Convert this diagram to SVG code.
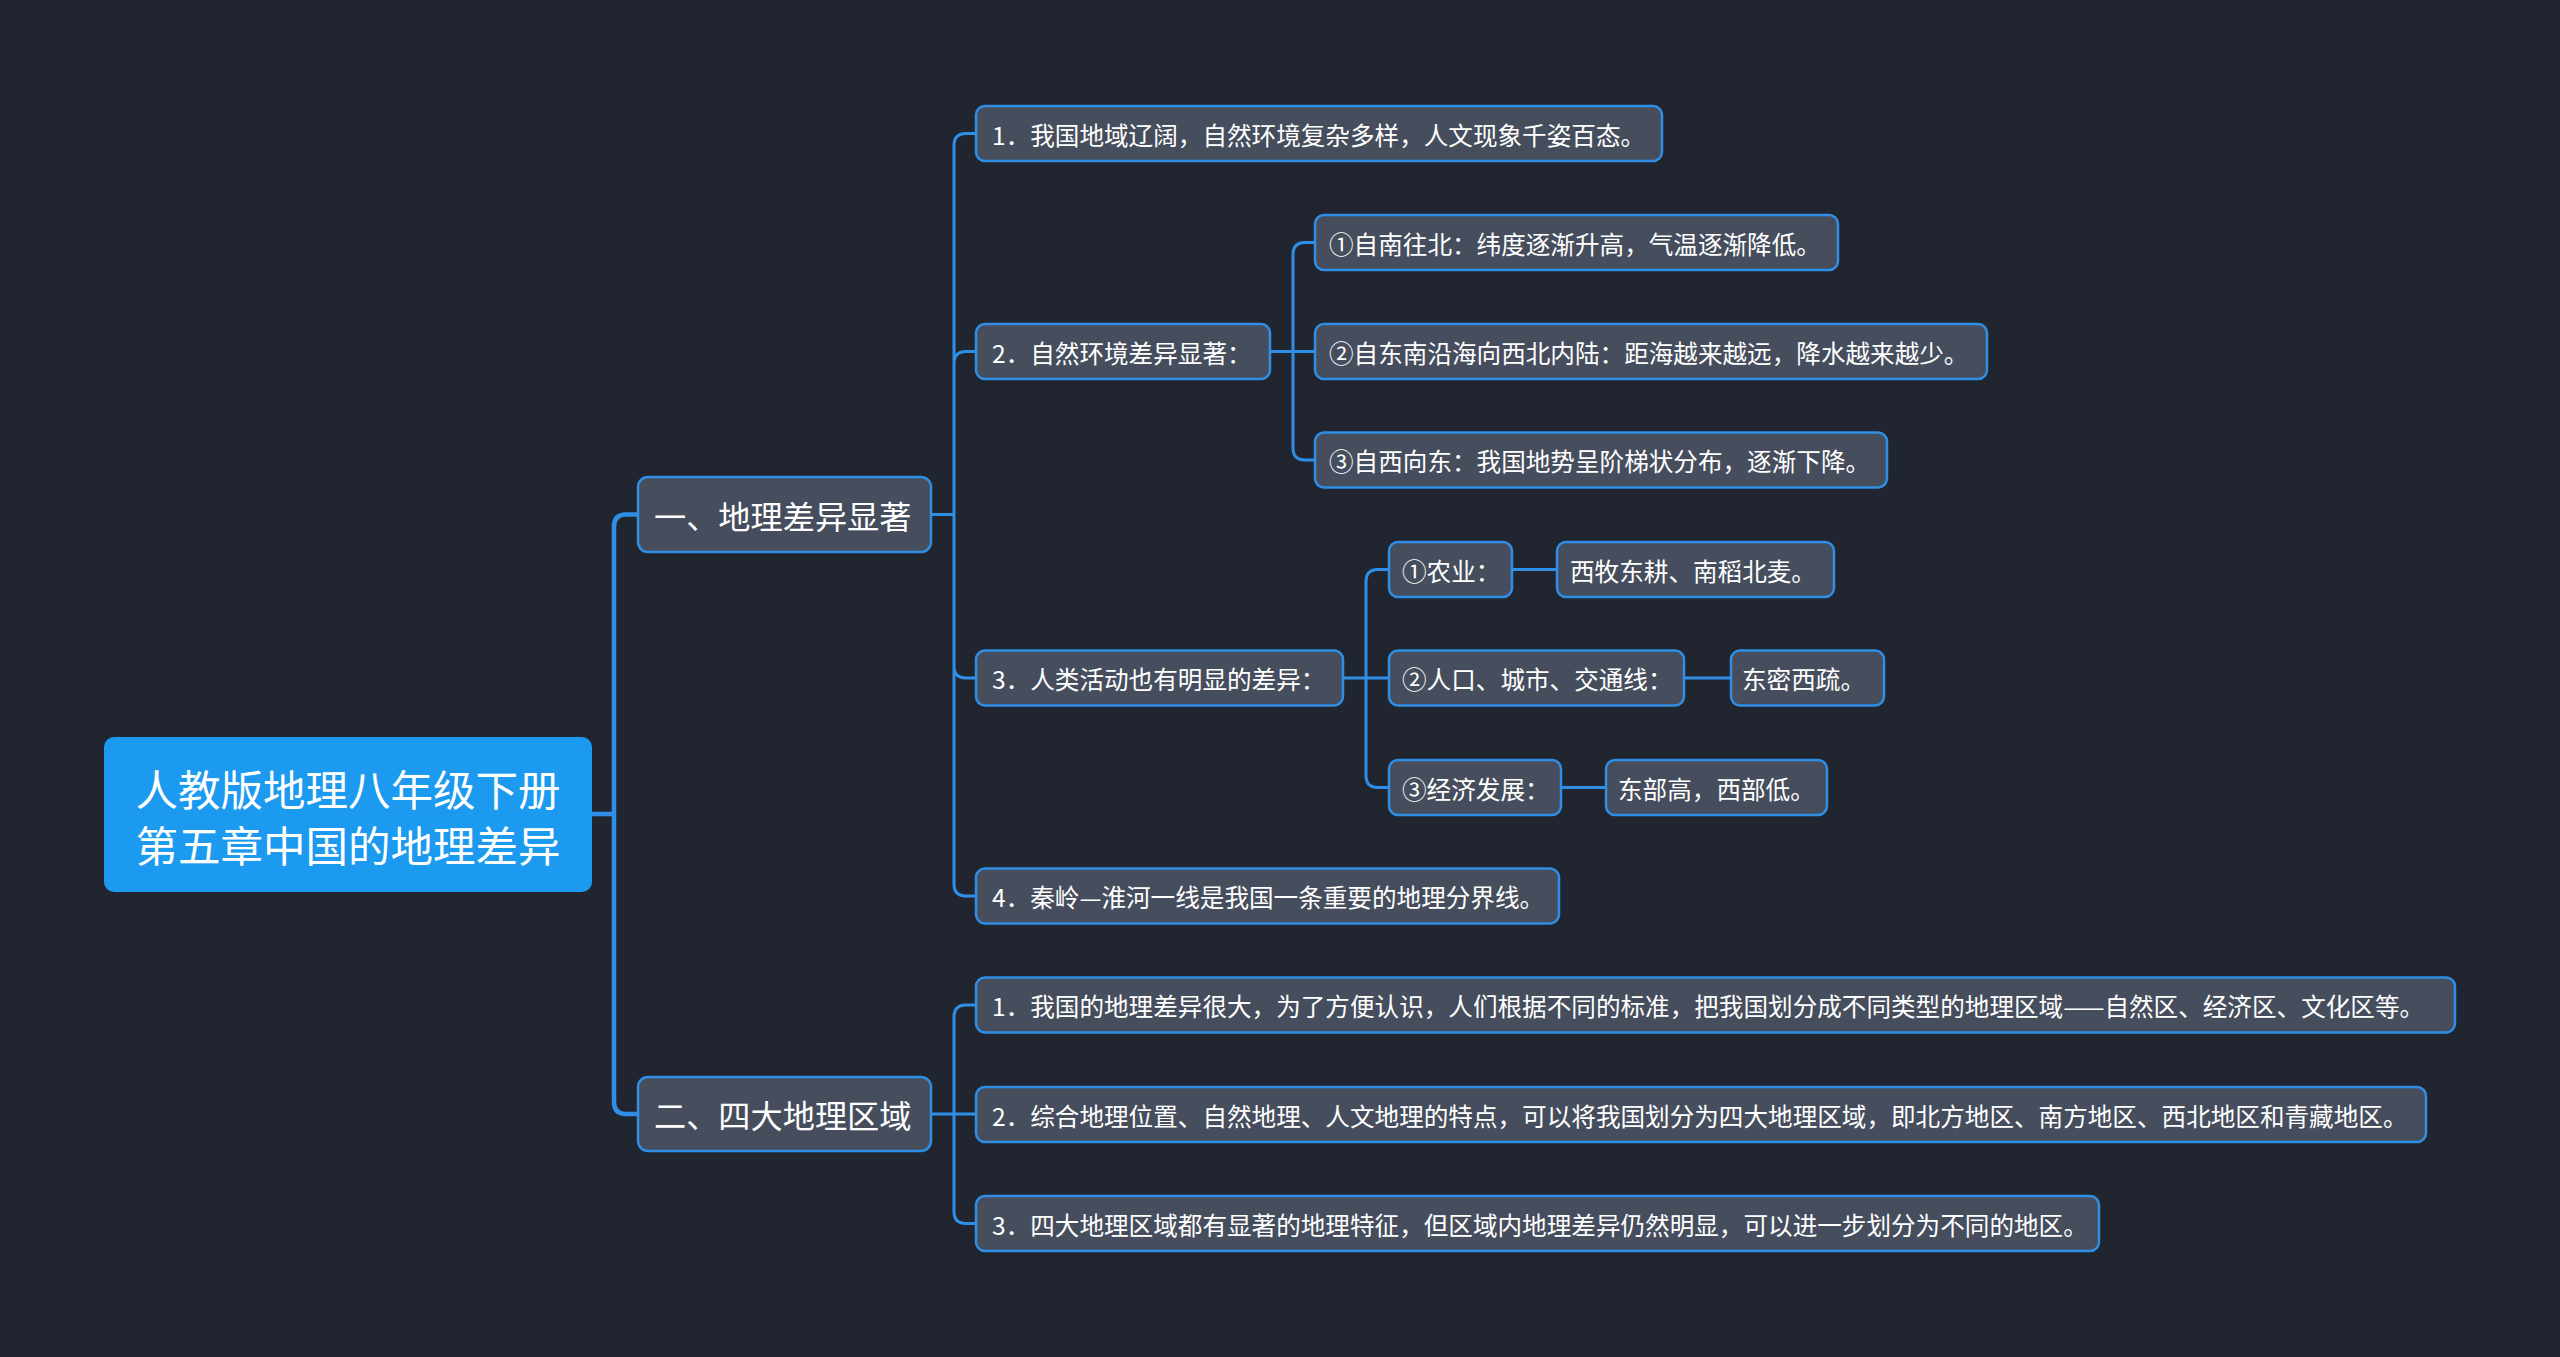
<svg xmlns="http://www.w3.org/2000/svg" width="2560" height="1357" viewBox="0 0 2560 1357">
<style>
.bg{fill:#21252f}
.box{fill:#464e5e;stroke:#2f8fe6;stroke-width:2.5}
.root{fill:#1c9af0}
.t{font-family:"Noto Sans CJK SC","Noto Sans",sans-serif;fill:#ffffff;dominant-baseline:central}
.t24{font-size:24.6px}
.t32{font-size:32.2px}
.t42{font-size:42.5px;text-anchor:middle}
.c{fill:none;stroke:#2f8fe6;stroke-width:3;stroke-linecap:round}
.c0{fill:none;stroke:#2f8fe6;stroke-width:4.5;stroke-linecap:round}
</style>
<rect class="bg" x="0" y="0" width="2560" height="1357"/>
<g id="connectors">
<path class="c0" d="M592,814 H614 M614,814 V526.5 Q614,514.5 626,514.5 H638 M614,814 V1102 Q614,1114 626,1114 H638"/>
<path class="c" d="M931,514.5 H954 M954,514.5 V145.5 Q954,133.5 966,133.5 H976 M954,514.5 V363.5 Q954,351.5 966,351.5 H976 M954,514.5 V666 Q954,678 966,678 H976 M954,514.5 V884 Q954,896 966,896 H976"/>
<path class="c" d="M1270,351.5 H1293 M1293,351.5 V254.5 Q1293,242.5 1305,242.5 H1315 M1293,351.5 H1315 M1293,351.5 V448 Q1293,460 1305,460 H1315"/>
<path class="c" d="M1343,678 H1366 M1366,678 V581.5 Q1366,569.5 1378,569.5 H1389 M1366,678 H1389 M1366,678 V775.5 Q1366,787.5 1378,787.5 H1389"/>
<path class="c" d="M1512,569.5 H1557 M1684,678 H1731 M1561,787.5 H1606"/>
<path class="c" d="M931,1114 H954 M954,1114 V1017 Q954,1005 966,1005 H976 M954,1114 H976 M954,1114 V1211.5 Q954,1223.5 966,1223.5 H976"/>
</g>
<g id="root">
<rect class="root" x="104" y="737" width="488" height="155" rx="10"/>
<text class="t t42" x="348" y="787">人教版地理八年级下册</text>
<text class="t t42" x="348" y="843">第五章中国的地理差异</text>
</g>
<g id="n1">
<rect class="box" x="638" y="477" width="293" height="75" rx="10"/>
<text class="t t32" x="654" y="514.5">一、地理差异显著</text>
</g>
<g id="n2">
<rect class="box" x="638" y="1077" width="293" height="74" rx="10"/>
<text class="t t32" x="654" y="1114">二、四大地理区域</text>
</g>
<g id="n1-1">
<rect class="box" x="976" y="106" width="686" height="55" rx="9"/>
<text class="t t24" x="992" y="133.5">1．我国地域辽阔，自然环境复杂多样，人文现象千姿百态。</text>
</g>
<g id="n1-2">
<rect class="box" x="976" y="324" width="294" height="55" rx="9"/>
<text class="t t24" x="992" y="351.5">2．自然环境差异显著：</text>
</g>
<g id="n1-2-1">
<rect class="box" x="1315" y="215" width="523" height="55" rx="9"/>
<text class="t t24" x="1329" y="242.5">①自南往北：纬度逐渐升高，气温逐渐降低。</text>
</g>
<g id="n1-2-2">
<rect class="box" x="1315" y="324" width="672" height="55" rx="9"/>
<text class="t t24" x="1329" y="351.5">②自东南沿海向西北内陆：距海越来越远，降水越来越少。</text>
</g>
<g id="n1-2-3">
<rect class="box" x="1315" y="432.5" width="572" height="55" rx="9"/>
<text class="t t24" x="1329" y="460">③自西向东：我国地势呈阶梯状分布，逐渐下降。</text>
</g>
<g id="n1-3">
<rect class="box" x="976" y="650.5" width="367" height="55" rx="9"/>
<text class="t t24" x="992" y="678">3．人类活动也有明显的差异：</text>
</g>
<g id="n1-3-1">
<rect class="box" x="1389" y="542" width="123" height="55" rx="9"/>
<text class="t t24" x="1402" y="569.5">①农业：</text>
</g>
<g id="n1-3-1-1">
<rect class="box" x="1557" y="542" width="277" height="55" rx="9"/>
<text class="t t24" x="1570" y="569.5">西牧东耕、南稻北麦。</text>
</g>
<g id="n1-3-2">
<rect class="box" x="1389" y="650.5" width="295" height="55" rx="9"/>
<text class="t t24" x="1402" y="678">②人口、城市、交通线：</text>
</g>
<g id="n1-3-2-1">
<rect class="box" x="1731" y="650.5" width="153" height="55" rx="9"/>
<text class="t t24" x="1742" y="678">东密西疏。</text>
</g>
<g id="n1-3-3">
<rect class="box" x="1389" y="760" width="172" height="55" rx="9"/>
<text class="t t24" x="1402" y="787.5">③经济发展：</text>
</g>
<g id="n1-3-3-1">
<rect class="box" x="1606" y="760" width="221" height="55" rx="9"/>
<text class="t t24" x="1618" y="787.5">东部高，西部低。</text>
</g>
<g id="n1-4">
<rect class="box" x="976" y="868.5" width="583" height="55" rx="9"/>
<text class="t t24" x="992" y="896">4．秦岭—淮河一线是我国一条重要的地理分界线。</text>
</g>
<g id="n2-1">
<rect class="box" x="976" y="977.5" width="1479" height="55" rx="9"/>
<text class="t t24" x="992" y="1005">1．我国的地理差异很大，为了方便认识，人们根据不同的标准，把我国划分成不同类型的地理区域——自然区、经济区、文化区等。</text>
</g>
<g id="n2-2">
<rect class="box" x="976" y="1087" width="1450" height="55" rx="9"/>
<text class="t t24" x="992" y="1114.5">2．综合地理位置、自然地理、人文地理的特点，可以将我国划分为四大地理区域，即北方地区、南方地区、西北地区和青藏地区。</text>
</g>
<g id="n2-3">
<rect class="box" x="976" y="1196" width="1123" height="55" rx="9"/>
<text class="t t24" x="992" y="1223.5">3．四大地理区域都有显著的地理特征，但区域内地理差异仍然明显，可以进一步划分为不同的地区。</text>
</g>
</svg>
